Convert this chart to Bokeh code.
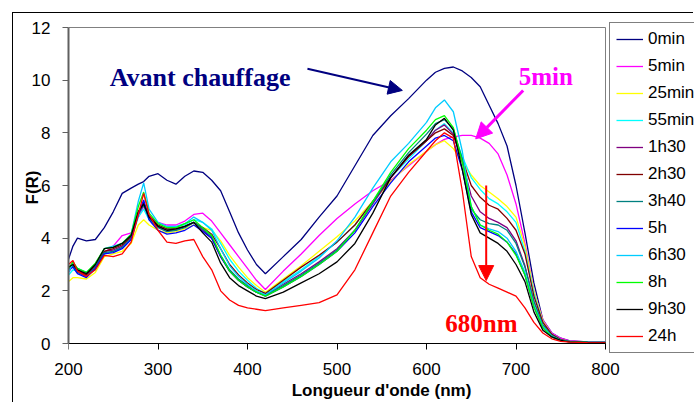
from bokeh.plotting import figure
from bokeh.models import (Range1d, FixedTicker, Legend, LegendItem, Label, Arrow,
                          NormalHead, ColumnDataSource, LinearAxis)
from bokeh.embed import file_html
from bokeh.resources import INLINE

wavelength = [200, 205, 210, 220, 230, 240, 250, 260, 270, 278, 284,
              290, 300, 310, 320, 330, 340, 350, 360, 370, 380, 390, 400, 410, 420,
              440, 460, 480, 500, 520, 540, 560, 580, 600, 610, 620,
              630, 640, 650, 660, 670, 680, 690, 700, 710, 720, 730, 740, 750, 760, 780, 800]

s_0min = [3.2, 3.7, 4.0, 3.9, 3.95, 4.4, 5.0, 5.7, 5.9, 6.05, 6.15,
          6.35, 6.45, 6.2, 6.05, 6.35, 6.55, 6.5, 6.2, 5.8, 5.0, 4.2, 3.55, 3.0, 2.65,
          3.3, 3.95, 4.8, 5.6, 6.75, 7.9, 8.65, 9.3, 10.0, 10.3, 10.45,
          10.5, 10.35, 10.1, 9.75, 9.05, 8.35, 7.5, 6.0, 4.2, 2.3, 0.9, 0.4, 0.2, 0.1, 0.06, 0.05]
s_5min = [2.7, 2.95, 2.8, 2.6, 2.85, 3.45, 3.7, 4.1, 4.2, 4.8, 5.2,
          4.8, 4.6, 4.5, 4.5, 4.65, 4.9, 4.95, 4.65, 4.2, 3.75, 3.3, 2.85, 2.4, 2.05,
          2.75, 3.4, 4.1, 4.75, 5.3, 5.8, 6.2, 6.75, 7.3, 7.55, 7.75,
          7.85, 7.9, 7.9, 7.8, 7.6, 7.2, 6.4, 5.3, 3.8, 2.0, 0.9, 0.4, 0.2, 0.1, 0.06, 0.05]
s_25min = [2.35, 2.5, 2.5, 2.45, 2.7, 3.3, 3.4, 3.5, 3.8, 4.5, 4.7,
           4.5, 4.3, 4.2, 4.25, 4.35, 4.5, 4.4, 4.3, 3.9, 3.35, 2.9, 2.5, 2.2, 1.95,
           2.45, 2.95, 3.5, 4.05, 4.65, 5.4, 6.15, 6.8, 7.3, 7.55, 7.7,
           7.4, 6.9, 6.4, 6.0, 5.75, 5.5, 5.2, 4.8, 3.7, 2.0, 0.85, 0.35, 0.15, 0.08, 0.05, 0.04]
s_55min = [2.6, 2.8, 2.75, 2.6, 2.8, 3.4, 3.5, 3.65, 3.95, 4.8, 5.1,
           4.7, 4.5, 4.35, 4.4, 4.5, 4.7, 4.6, 4.35, 3.8, 3.2, 2.75, 2.4, 2.1, 1.9,
           2.35, 2.8, 3.3, 3.85, 4.5, 5.4, 6.3, 7.0, 7.7, 8.1, 8.35,
           8.0, 7.1, 6.3, 5.85, 5.5, 5.3, 5.0, 4.6, 3.5, 1.9, 0.8, 0.35, 0.15, 0.08, 0.05, 0.04]
s_1h30 = [2.8, 3.0, 2.75, 2.6, 2.95, 3.5, 3.55, 3.7, 4.05, 5.0, 5.3,
          4.8, 4.45, 4.3, 4.3, 4.45, 4.6, 4.3, 4.0, 3.3, 2.75, 2.4, 2.15, 1.95, 1.85,
          2.25, 2.65, 3.1, 3.6, 4.3, 5.3, 6.3, 7.1, 7.7, 8.1, 8.3,
          7.95, 6.9, 5.6, 5.0, 4.75, 4.6, 4.4, 3.9, 2.95, 1.6, 0.7, 0.3, 0.13, 0.07, 0.05, 0.04]
s_2h30 = [2.85, 3.05, 2.8, 2.6, 2.95, 3.5, 3.6, 3.75, 4.05, 5.0, 5.35,
          4.85, 4.5, 4.35, 4.35, 4.45, 4.6, 4.4, 4.15, 3.6, 3.0, 2.6, 2.3, 2.05, 1.9,
          2.4, 2.9, 3.35, 3.85, 4.5, 5.4, 6.3, 7.1, 7.7, 8.0, 8.15,
          7.9, 7.0, 6.0, 5.55, 5.25, 5.1, 4.75, 4.3, 3.4, 1.8, 0.8, 0.35, 0.15, 0.08, 0.05, 0.04]
s_3h40 = [2.75, 2.95, 2.7, 2.55, 2.9, 3.45, 3.5, 3.65, 4.0, 4.9, 5.25,
          4.75, 4.4, 4.25, 4.3, 4.4, 4.6, 4.35, 4.05, 3.35, 2.8, 2.45, 2.2, 1.95, 1.85,
          2.2, 2.6, 3.05, 3.55, 4.3, 5.35, 6.4, 7.25, 7.95, 8.35, 8.5,
          8.15, 7.0, 5.1, 4.7, 4.55, 4.5, 4.3, 3.8, 2.9, 1.6, 0.7, 0.3, 0.13, 0.07, 0.05, 0.04]
s_5h = [2.8, 2.9, 2.65, 2.5, 2.85, 3.4, 3.45, 3.6, 3.95, 4.9, 5.45,
        4.7, 4.3, 4.15, 4.2, 4.3, 4.5, 4.25, 4.0, 3.3, 2.75, 2.4, 2.15, 1.95, 1.8,
        2.15, 2.55, 3.0, 3.5, 4.2, 5.2, 6.1, 6.9, 7.5, 7.8, 7.9,
        7.7, 6.6, 5.0, 4.4, 4.25, 4.1, 3.85, 3.4, 2.6, 1.4, 0.6, 0.25, 0.11, 0.06, 0.04, 0.03]
s_6h30 = [2.7, 3.05, 2.85, 2.7, 3.0, 3.6, 3.7, 3.8, 4.15, 5.4, 6.1,
          5.1, 4.6, 4.45, 4.45, 4.55, 4.8, 4.6, 4.3, 3.6, 2.95, 2.55, 2.25, 2.0, 1.85,
          2.3, 2.75, 3.25, 3.9, 4.8, 5.9, 6.9, 7.6, 8.4, 8.95, 9.25,
          8.8, 7.3, 5.2, 4.5, 4.35, 4.25, 4.0, 3.5, 2.7, 1.45, 0.65, 0.28, 0.12, 0.07, 0.05, 0.04]
s_8h = [2.85, 3.1, 2.85, 2.7, 3.05, 3.6, 3.65, 3.8, 4.15, 5.2, 5.75,
        4.95, 4.55, 4.4, 4.4, 4.55, 4.7, 4.4, 4.1, 3.35, 2.75, 2.4, 2.15, 1.95, 1.8,
        2.15, 2.55, 3.0, 3.5, 4.3, 5.4, 6.5, 7.4, 8.1, 8.5, 8.65,
        8.2, 6.9, 5.2, 4.5, 4.3, 4.15, 3.85, 3.35, 2.6, 1.4, 0.6, 0.25, 0.11, 0.06, 0.04, 0.03]
s_9h30 = [2.9, 3.0, 2.8, 2.65, 3.0, 3.6, 3.65, 3.8, 4.1, 5.0, 5.3,
          4.8, 4.45, 4.3, 4.35, 4.45, 4.6, 4.2, 3.85, 3.05, 2.5, 2.2, 2.0, 1.8, 1.7,
          1.95, 2.3, 2.65, 3.1, 3.8, 4.95, 6.3, 7.15, 7.75, 8.3, 8.55,
          8.1, 6.6, 4.9, 4.2, 4.0, 3.8, 3.5, 3.0, 2.35, 1.2, 0.5, 0.25, 0.12, 0.06, 0.04, 0.03]
s_24h = [3.0, 3.15, 2.75, 2.55, 2.8, 3.35, 3.3, 3.4, 3.85, 4.9, 5.7,
         4.9, 4.3, 3.85, 3.8, 3.9, 3.95, 3.3, 2.8, 2.0, 1.65, 1.45, 1.35, 1.3, 1.25,
         1.35, 1.45, 1.55, 1.85, 2.8, 4.2, 5.6, 6.5, 7.3, 7.7, 8.0,
         7.8, 5.8, 3.3, 2.5, 2.25, 2.1, 1.95, 1.8, 1.35, 0.8, 0.4, 0.18, 0.08, 0.05, 0.03, 0.02]

series_names = ["0min", "5min", "25min", "55min", "1h30", "2h30", "3h40",
                "5h", "6h30", "8h", "9h30", "24h"]
series_values = [s_0min, s_5min, s_25min, s_55min, s_1h30, s_2h30, s_3h40,
                 s_5h, s_6h30, s_8h, s_9h30, s_24h]
series_colors = ["#000080", "#FF00FF", "#FFFF00", "#00FFFF", "#800080", "#800000",
                 "#008080", "#0000FF", "#00CCFF", "#00FF00", "#000000", "#FF0000"]

x_ticks = [200, 300, 400, 500, 600, 700, 800]
y_ticks = [0, 2, 4, 6, 8, 10, 12]

FONT = "Liberation Sans"
SERIF = "Liberation Serif"

# canvas geometry (canvas starts 13px inside the page, after the chart-area border)
W, H = 681, 390
LEFT, TOP, BOTTOM = 55, 7, 49
ZERO_FROM_BOTTOM = 11          # y = 0 lies 11px above the bottom of the plot frame
PX_PER_NM = 537 / 600.0
PX_PER_UNIT = 316 / 12.0
frame_w = W - LEFT
frame_h = H - TOP - BOTTOM
x_max = x_ticks[0] + frame_w / PX_PER_NM
y_min = -ZERO_FROM_BOTTOM / PX_PER_UNIT
y_max = y_min + frame_h / PX_PER_UNIT

p = figure(width=W, height=H, output_backend="svg", toolbar_location=None,
           x_range=Range1d(x_ticks[0], x_max), y_range=Range1d(y_min, y_max),
           min_border_left=LEFT, min_border_right=0, min_border_top=TOP,
           min_border_bottom=BOTTOM)
p.styles = {"margin-left": "12px", "margin-top": "12px",
            "border-left": "1px solid black", "border-top": "1px solid black"}
p.background_fill_color = "white"
p.border_fill_color = "white"
p.outline_line_color = None
p.xgrid.visible = False
p.ygrid.visible = False

# x axis line and tick marks, placed at y = 0
p.xaxis.ticker = FixedTicker(ticks=x_ticks)
p.xaxis.bounds = (x_ticks[0], x_ticks[-1])
p.xaxis.fixed_location = y_ticks[0]
p.xaxis.minor_tick_line_color = None
p.xaxis.major_tick_in = 0
p.xaxis.major_tick_out = 6
p.xaxis.axis_line_color = "black"
p.xaxis.major_tick_line_color = "black"
p.xaxis.major_label_text_color = None

# y axis
p.yaxis.ticker = FixedTicker(ticks=y_ticks)
p.yaxis.bounds = (y_ticks[0], y_ticks[-1])
p.yaxis.minor_tick_line_color = None
p.yaxis.major_tick_in = 0
p.yaxis.major_tick_out = 6
p.yaxis.major_label_text_font = FONT
p.yaxis.major_label_text_font_size = "17px"
p.yaxis.major_label_text_color = "black"
p.yaxis.axis_label_text_font = FONT
p.yaxis.axis_label_text_font_size = "17px"
p.yaxis.axis_label_text_font_style = "bold"
p.yaxis.axis_label_text_color = "black"
p.yaxis.axis_line_color = "#606060"
p.yaxis.axis_line_width = 2
p.yaxis.major_tick_line_color = "#606060"
p.yaxis.major_label_standoff = 12
p.yaxis.axis_label = "F(R)"
p.yaxis.axis_label_standoff = -13

# bottom axis carrying the x tick labels and the x title
xlab = LinearAxis(ticker=FixedTicker(ticks=x_ticks), axis_label="Longueur d'onde (nm)",
                  bounds=(x_ticks[0], x_ticks[-1]))
xlab.axis_line_color = None
xlab.major_tick_line_color = None
xlab.minor_tick_line_color = None
xlab.major_tick_out = 0
xlab.major_tick_in = 0
xlab.major_label_standoff = 8
xlab.major_label_text_font = FONT
xlab.major_label_text_font_size = "17px"
xlab.major_label_text_color = "black"
xlab.axis_label_standoff = 3
xlab.axis_label_text_font = FONT
xlab.axis_label_text_font_size = "17px"
xlab.axis_label_text_font_style = "bold"
xlab.axis_label_text_color = "black"
p.add_layout(xlab, "below")

# plot-area border (top and right edges)
p.line([x_ticks[0], x_ticks[-1], x_ticks[-1]], [y_ticks[-1], y_ticks[-1], y_ticks[0]],
       line_color="#808080", line_width=1)

items = []
for name, vals, col in zip(series_names, series_values, series_colors):
    src = ColumnDataSource(dict(x=wavelength, y=vals))
    r = p.line("x", "y", source=src, line_color=col, line_width=1.3)
    items.append(LegendItem(label=name, renderers=[r]))

legend = Legend(items=items, location=(541, 1))
legend.label_text_font = FONT
legend.label_text_font_size = "17px"
legend.label_text_color = "black"
legend.glyph_width = 27
legend.glyph_height = 20
legend.label_height = 20
legend.spacing = 7
legend.padding = 6
legend.margin = 0
legend.label_standoff = 5
legend.border_line_color = "black"
legend.border_line_width = 1
legend.background_fill_color = "white"
legend.background_fill_alpha = 1
p.add_layout(legend)

# annotations
p.add_layout(Label(x=246, y=10.1, text="Avant chauffage", text_font=SERIF,
                   text_font_size="26px", text_font_style="bold", text_color="#000080",
                   text_baseline="alphabetic"))
p.add_layout(Arrow(x_start=467, y_start=10.43, x_end=573, y_end=9.61,
                   line_color="#000080", line_width=2,
                   end=NormalHead(size=14, fill_color="#000080", line_color="#000080")))
p.add_layout(Label(x=703, y=10.14, text="5min", text_font=SERIF,
                   text_font_size="25px", text_font_style="bold", text_color="#FF00FF",
                   text_baseline="alphabetic"))
p.add_layout(Arrow(x_start=708, y_start=9.61, x_end=655, y_end=7.77,
                   line_color="#FF00FF", line_width=3,
                   end=NormalHead(size=16, fill_color="#FF00FF", line_color="#FF00FF")))
p.add_layout(Arrow(x_start=666.7, y_start=6.0, x_end=666.7, y_end=2.39,
                   line_color="#FF0000", line_width=2,
                   end=NormalHead(size=15, fill_color="#FF0000", line_color="#FF0000")))
p.add_layout(Label(x=621, y=0.75, text="680nm", text_font=SERIF,
                   text_font_size="25px", text_font_style="bold", text_color="#FF0000",
                   text_baseline="alphabetic"))

open("out.html", "w").write(file_html(p, INLINE))
